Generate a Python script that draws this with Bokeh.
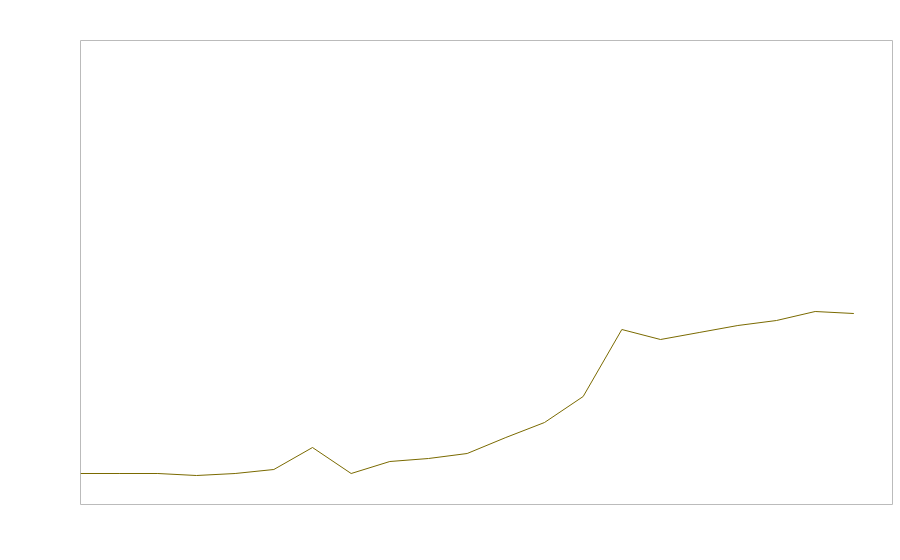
from bokeh.plotting import figure
from bokeh.models import Range1d
from bokeh.embed import file_html
from bokeh.resources import INLINE

x_values = list(range(21))
y_values = [31, 31, 31, 29, 31, 35, 57, 31, 43, 46, 51, 67, 82, 108, 175, 165, 172, 179, 184, 193, 191]

p = figure(width=900, height=548, output_backend="svg", toolbar_location=None,
           x_axis_type=None, y_axis_type=None,
           x_range=Range1d(0, 21), y_range=Range1d(0, 464),
           min_border_left=80, min_border_right=8, min_border_top=40, min_border_bottom=44)
p.xgrid.visible = False
p.ygrid.visible = False
p.outline_line_color = "#bbbbbb"
p.outline_line_width = 1
p.background_fill_color = "white"
p.border_fill_color = "white"

p.line(x_values, y_values, line_color="#7a6a00", line_width=1)

open("out.html", "w").write(file_html(p, INLINE))
